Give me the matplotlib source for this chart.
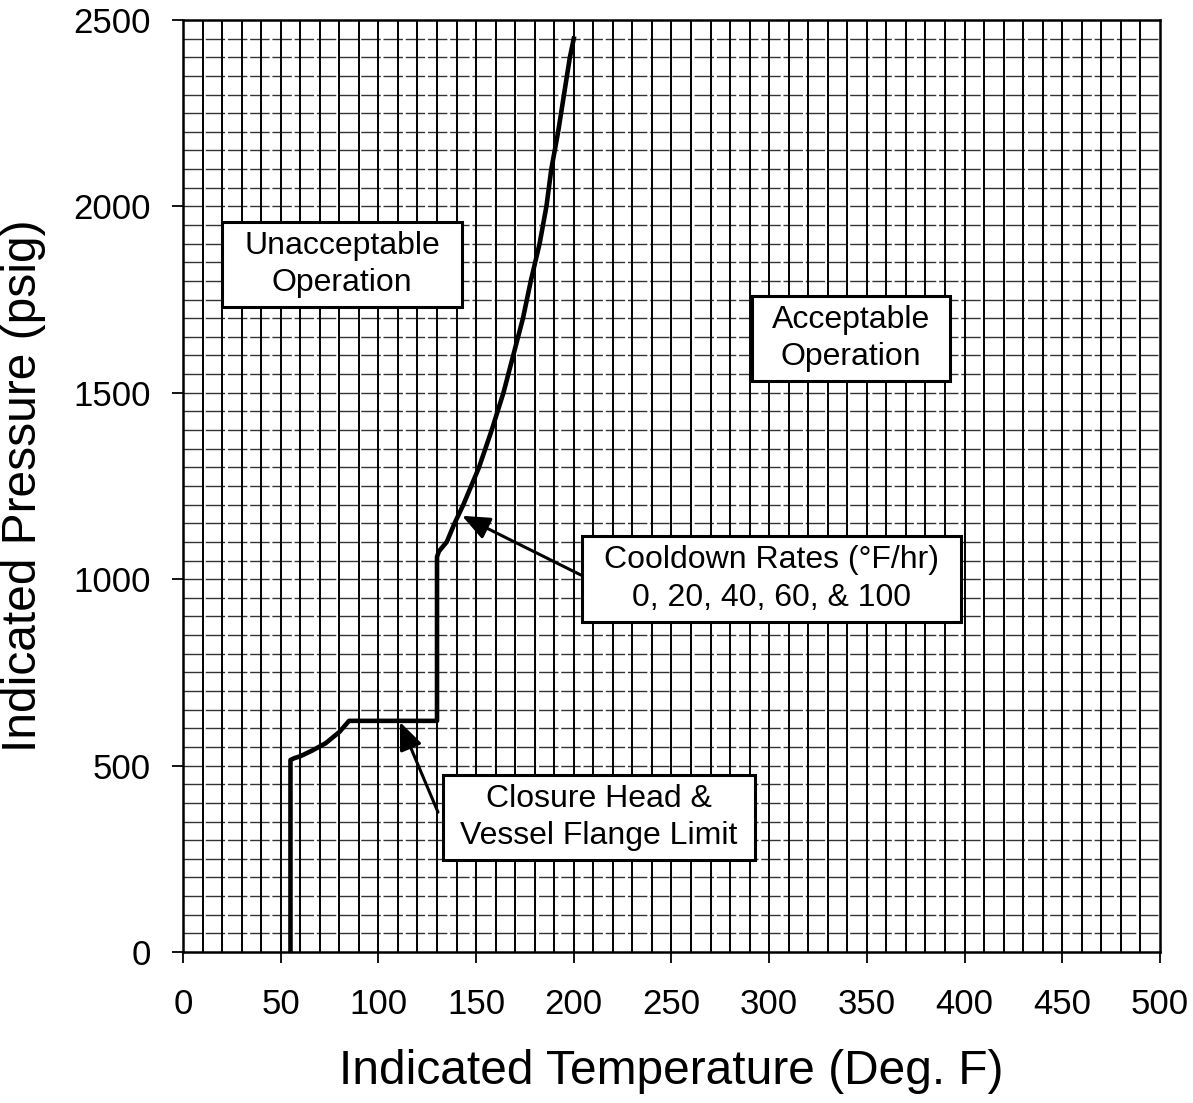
import numpy as np
import matplotlib
matplotlib.use("Agg")
import matplotlib.pyplot as plt
from matplotlib.patches import Rectangle

plt.rcParams["font.family"] = ["Liberation Sans", "DejaVu Sans"]

# P-T limit curve (cooldown 0-100 F/hr)
temp_f = [55, 55, 57, 60, 66, 73, 80, 85, 130, 130, 131, 135, 139, 143.5,
          151.5, 158, 164, 169, 174, 178, 182.5, 186, 188.5, 192, 195, 198, 200]
press_psig = [0, 515, 520, 525, 540, 560, 590, 620, 620, 1060, 1075, 1100, 1150, 1200,
              1300, 1400, 1500, 1600, 1700, 1800, 1900, 2000, 2100, 2200, 2300, 2400, 2450]

x_ticks = np.arange(0, 501, 50)
y_ticks = np.arange(0, 2501, 500)

fig = plt.figure(figsize=(11.93, 11.03), dpi=100)
ax = fig.add_axes([0.1534, 0.1369, 0.8189, 0.845])

# graph-paper grid: 10 F by 50 psig
for t in np.arange(10, 500, 10):
    ax.axvline(t, color="black", lw=1.4, zorder=1)
for p in np.arange(50, 2500, 50):
    ax.axhline(p, color="black", lw=1.0, ls=(0, (14, 2)), alpha=0.8, zorder=1)

ax.plot(temp_f, press_psig, color="black", lw=3.3, solid_joinstyle="round", zorder=3)

ax.set_xlim(0, 500)
ax.set_ylim(0, 2500)
ax.set_xticks(x_ticks)
ax.set_yticks(y_ticks)
ax.tick_params(direction="out", length=8, width=1.3, labelsize=25)
ax.tick_params(axis="x", pad=18)
ax.tick_params(axis="y", pad=15)
for s in ax.spines.values():
    s.set_linewidth(1.8)

ax.set_xlabel("Indicated Temperature (Deg. F)", fontsize=34.5, labelpad=20)
ax.set_ylabel("Indicated Pressure (psig)", fontsize=34.5, labelpad=20)

renderer = fig.canvas.get_renderer()


def boxed(x, y, s, padx=22, pady=9):
    t = ax.text(x, y, s, fontsize=23, ha="center", va="center",
                linespacing=1.33, zorder=6)
    bb = t.get_window_extent(renderer)
    inv = ax.transData.inverted()
    (x0, y0), (x1, y1) = inv.transform([(bb.x0 - padx, bb.y0 - pady),
                                        (bb.x1 + padx, bb.y1 + pady)])
    ax.add_patch(Rectangle((x0, y0), x1 - x0, y1 - y0, fc="white", ec="black",
                           lw=2.2, zorder=5))


boxed(81.5, 1844, "Unacceptable\nOperation")
boxed(342, 1646, "Acceptable\nOperation", padx=20)
boxed(301, 1000, "Cooldown Rates (°F/hr)\n0, 20, 40, 60, & 100")
boxed(213, 361, "Closure Head &\nVessel Flange Limit", padx=17)

arrow = dict(arrowstyle="-|>,head_length=0.6,head_width=0.25", color="black",
             lw=2.2, mutation_scale=28, shrinkA=0, shrinkB=0)
ax.annotate("", xy=(142.8, 1170), xytext=(203.7, 1011), arrowprops=arrow, zorder=4)
ax.annotate("", xy=(111, 617), xytext=(130.5, 375), arrowprops=arrow, zorder=4)

fig.savefig("out.png", dpi=100)
